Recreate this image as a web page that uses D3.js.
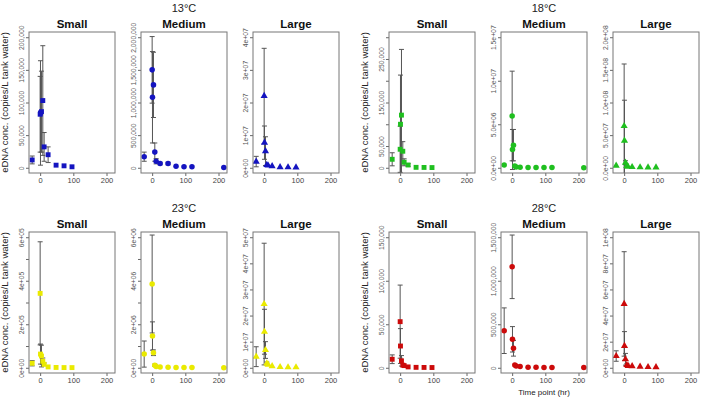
<!DOCTYPE html>
<html><head><meta charset="utf-8">
<script src="https://cdn.jsdelivr.net/npm/d3@7"></script>
<style>body{margin:0;background:#fff} svg{display:block;font-family:"Liberation Sans",Arial,sans-serif}</style>
</head><body>
<svg id="c" width="709" height="401"></svg>
<script>
// ---- data ----
const times = [-24, 0, 1, 4, 8, 12, 24, 48, 72, 96, 120, 216];
const temperatures = ["13°C", "18°C", "23°C", "28°C"];
const sizes = ["Small", "Medium", "Large"];
const xTicks = [0, 100, 200];

const mean13 = [
  [12000, 82000, 84000, 86000, 103000, 32000, 20000, 4000, 3000, 1500, null, null],
  [170000, 1500000, 1080000, 1270000, 240000, 100000, 65000, 65000, 25000, 15000, 15000, 3000],
  [1900000, 22000000, 7700000, 5100000, 900000, 700000, 500000, 200000, 150000, 100000, null, null]];
const se13 = [
  [6000, 58000, 80000, 62000, 84000, 22000, 12000, 1500, 1000, 500, null, null],
  [70000, 510000, 700000, 500000, 140000, 40000, 20000, 20000, 8000, 5000, 5000, 1000],
  [1600000, 14600000, 5100000, 4400000, 300000, 200000, 150000, 50000, 50000, 30000, null, null]];
const mean18 = [
  [19500, 42500, 100000, 121000, 38000, 12600, 6400, 1000, 800, 500, null, null],
  [320000, 5950000, 2100000, 2600000, 200000, 100000, 50000, 30000, 20000, 20000, 20000, 10000],
  [3200000, 64000000, 41500000, 7800000, 2800000, 1500000, 1200000, 800000, 600000, 500000, null, null]];
const se18 = [
  [15000, 53000, 113000, 151000, 22000, 8000, 3000, 500, 300, 200, null, null],
  [100000, 5150000, 2300000, 1800000, 100000, 50000, 20000, 10000, 5000, 5000, 5000, 3000],
  [1500000, 95000000, 62000000, 3000000, 1000000, 500000, 400000, 200000, 200000, 100000, null, null]];
const mean23 = [
  [20700, 342000, 63000, 54000, 30000, 16000, 4000, 1500, 1000, 800, null, null],
  [630000, 3850000, 1460000, 690000, 120000, 60000, 40000, 20000, 15000, 10000, 10000, 5000],
  [4250000, 24400000, 13800000, 6800000, 1700000, 1200000, 600000, 300000, 200000, 200000, null, null]];
const se23 = [
  [12000, 237000, 46000, 50000, 15000, 6000, 2000, 500, 300, 300, null, null],
  [600000, 2250000, 650000, 130000, 50000, 20000, 10000, 5000, 5000, 3000, 3000, 2000],
  [3800000, 23300000, 8600000, 3200000, 500000, 300000, 200000, 100000, 50000, 50000, null, null]];
const mean28 = [
  [9800, 53000, 25000, 8000, 3000, 2500, 1000, 500, 400, 300, null, null],
  [426000, 1160000, 327000, 224000, 32000, 20000, 15000, 6000, 5000, 4000, 4000, 3000],
  [9000000, 48900000, 16700000, 6500000, 2100000, 1500000, 1300000, 800000, 600000, 500000, null, null]];
const se28 = [
  [5000, 42000, 20000, 6000, 1500, 1000, 500, 200, 200, 100, null, null],
  [262000, 365000, 146000, 90000, 10000, 5000, 3000, 2000, 1000, 1000, 1000, 1000],
  [4000000, 40000000, 11000000, 4500000, 1000000, 500000, 400000, 200000, 200000, 100000, null, null]];

const yStep13 = [50000, 500000, 1e7];
const yStep18 = [50000, 5e6, 5e7];
const yStep23 = [1e5, 1e6, 1e7];
const yStep28 = [50000, 500000, 2e7];
const yLabels13 = [["0","50,000","100,000","150,000","200,000"], ["0","500,000","1,000,000","1,500,000","2,000,000"], ["0e+00","1e+07","2e+07","3e+07","4e+07"]];
const yLabels18 = [["0","50,000","","150,000","","250,000",""], ["0.0e+00","5.0e+06","1.0e+07","1.5e+07"], ["0.0e+00","5.0e+07","1.0e+08","1.5e+08","2.0e+08"]];
const yLabels23 = [["0e+00","","2e+05","","4e+05","","6e+05"], ["0e+00","","2e+06","","4e+06","","6e+06"], ["0e+00","1e+07","2e+07","3e+07","4e+07","5e+07"]];
const yLabels28 = [["0","50,000","100,000","150,000"], ["0","500,000","1,000,000","1,500,000"], ["0e+00","2e+07","4e+07","6e+07","8e+07","1e+08"]];

const means = [mean13, mean18, mean23, mean28];
const ses = [se13, se18, se23, se28];
const ySteps = [yStep13, yStep18, yStep23, yStep28];
const yLabels = [yLabels13, yLabels18, yLabels23, yLabels28];

// ---- styles / layout ----
const colors = ["#1414c0", "#1fbf1f", "#eaea00", "#cc0a0a"];
const symbols = [d3.symbolSquare, d3.symbolCircle, d3.symbolTriangle];
const symSizes = [24, 24, 22];
const blockX = [29, 389], rowY = [32, 232];
const pw = 86, ph = 141, gap = 112;
const svg = d3.select("#c");

temperatures.forEach((temp, ti) => {
  const bx = blockX[ti % 2], by = rowY[Math.floor(ti / 2)];
  svg.append("text").attr("x", bx + gap + pw / 2).attr("y", by - 20)
    .attr("text-anchor", "middle").attr("font-size", 11).attr("fill", "#222").text(temp);
  svg.append("text").attr("transform", `translate(${bx - 21},${by + ph / 2}) rotate(-90)`)
    .attr("text-anchor", "middle").attr("font-size", 9.5).attr("fill", "#222")
    .text("eDNA conc. (copies/L tank water)");

  sizes.forEach((sz, si) => {
    const x0 = bx + si * gap;
    const labels = yLabels[ti][si];
    const step = ySteps[ti][si];
    const yTicks = labels.map((_, i) => i * step);
    const ymax = yTicks[yTicks.length - 1];
    const x = d3.scaleLinear().domain([-33.6, 225.6]).range([x0, x0 + pw]);
    const y = d3.scaleLinear().domain([-0.04 * ymax, 1.04 * ymax]).range([by + ph, by]);
    const g = svg.append("g");
    const clipId = `clip${ti}${si}`;
    g.append("clipPath").attr("id", clipId).append("rect")
      .attr("x", x0).attr("y", by).attr("width", pw).attr("height", ph);

    g.append("text").attr("x", x0 + pw / 2).attr("y", by - 4).attr("text-anchor", "middle")
      .attr("font-size", 11.5).attr("font-weight", "bold").attr("fill", "#111").text(sz);

    const ya = g.append("g").attr("transform", `translate(${x0},0)`)
      .call(d3.axisLeft(y).tickValues(yTicks).tickSize(3).tickFormat((d, i) => labels[i]));
    ya.select(".domain").remove();
    ya.selectAll("line").attr("stroke", "#666");
    ya.selectAll("text").attr("x", 0).attr("dy", 0).attr("y", -5)
      .attr("text-anchor", "middle").attr("transform", "rotate(-90)")
      .attr("font-size", 6.8).attr("fill", "#555").attr("font-family", null);
    const xa = g.append("g").attr("transform", `translate(0,${by + ph})`)
      .call(d3.axisBottom(x).tickValues(xTicks).tickSize(3).tickPadding(2));
    xa.select(".domain").remove();
    xa.selectAll("line").attr("stroke", "#666");
    xa.selectAll("text").attr("font-size", 7.5).attr("fill", "#444").attr("font-family", null);

    const pts = times.map((t, i) => ({ t, m: means[ti][si][i], e: ses[ti][si][i] }))
      .filter(d => d.m !== null);
    const eb = g.append("g").attr("clip-path", `url(#${clipId})`).attr("stroke", "#555").attr("stroke-width", 1);
    pts.filter(d => d.e > 0).forEach(d => {
      const cx = x(d.t), yt = y(d.m + d.e), yb = y(d.m - d.e);
      if (Math.abs(yb - yt) < 2) return;
      eb.append("line").attr("x1", cx).attr("x2", cx).attr("y1", yt).attr("y2", yb);
      eb.append("line").attr("x1", cx - 2.5).attr("x2", cx + 2.5).attr("y1", yt).attr("y2", yt);
      eb.append("line").attr("x1", cx - 2.5).attr("x2", cx + 2.5).attr("y1", yb).attr("y2", yb);
    });
    g.append("g").attr("clip-path", `url(#${clipId})`).selectAll("path").data(pts).join("path")
      .attr("transform", d => `translate(${x(d.t)},${y(d.m)})`)
      .attr("d", d3.symbol(symbols[si], symSizes[si])).attr("fill", colors[ti]);

    g.append("rect").attr("x", x0).attr("y", by).attr("width", pw).attr("height", ph)
      .attr("fill", "none").attr("stroke", "#777").attr("stroke-width", 1);
  });
});

svg.append("text").attr("x", blockX[1] + gap + pw / 2).attr("y", 395).attr("text-anchor", "middle")
  .attr("font-size", 8).attr("fill", "#222").text("Time point (hr)");
</script>
</body></html>
